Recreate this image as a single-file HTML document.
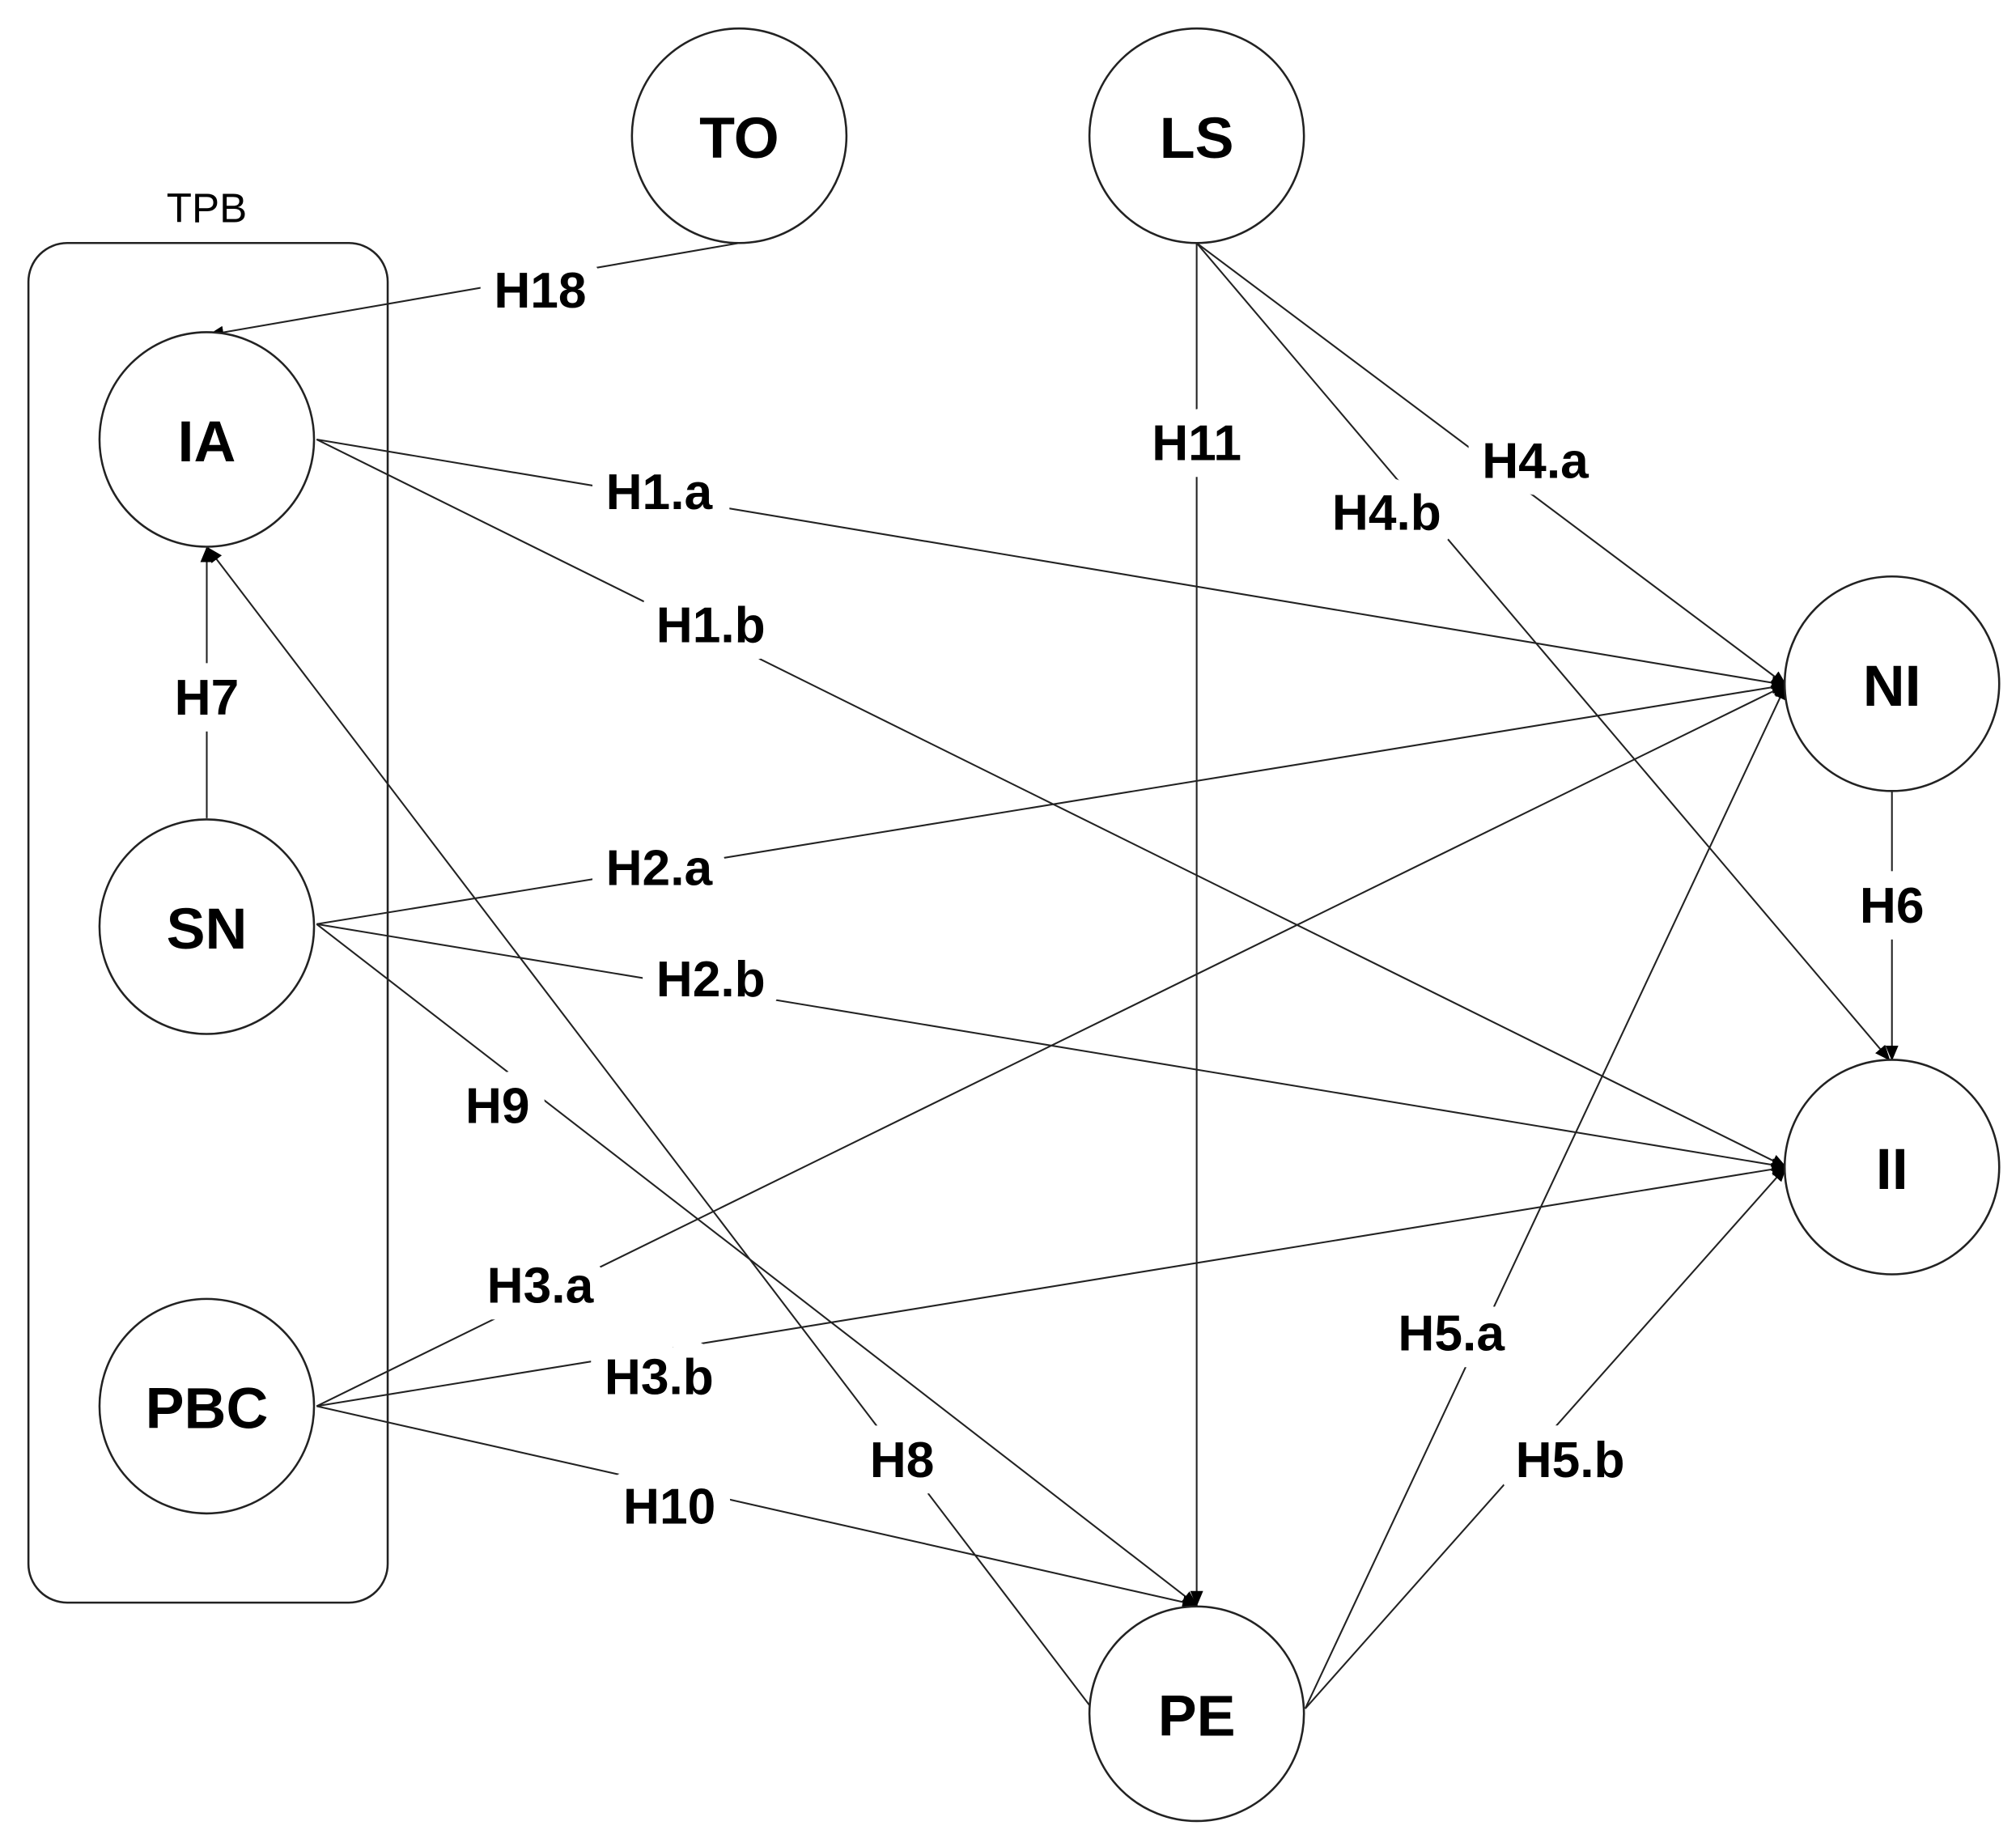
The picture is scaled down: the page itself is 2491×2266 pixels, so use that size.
<!DOCTYPE html>
<html><head><meta charset="utf-8"><style>
html,body{margin:0;padding:0;background:#fff;}
svg{display:block;}
text{font-family:"Liberation Sans",Arial,sans-serif;}
.n{font-weight:bold;font-size:45px;}
.l{font-weight:bold;font-size:39px;paint-order:stroke;stroke:#fff;stroke-width:26px;stroke-linejoin:round;}
</style></head><body>
<svg width="2491" height="2266" viewBox="0 0 1560 1419" xmlns="http://www.w3.org/2000/svg">
<defs>
<marker id="a" markerUnits="userSpaceOnUse" markerWidth="12" markerHeight="12" refX="11" refY="6" orient="auto">
<path d="M0,1 L12,6 L0,11 z" fill="#000"/>
</marker>
</defs>
<rect width="1560" height="1419" fill="#fff"/>
<rect x="22" y="188" width="278" height="1052" rx="30" ry="30" fill="none" stroke="#222" stroke-width="1.6"/>
<text x="160" y="172" font-size="32" text-anchor="middle">TPB</text>
<g stroke="#222" stroke-width="1.3" fill="none">
<line x1="572" y1="188" x2="162" y2="259" marker-end="url(#a)"/>
<line x1="926" y1="188" x2="926" y2="1242" marker-end="url(#a)"/>
<line x1="926" y1="188" x2="1382" y2="530" marker-end="url(#a)"/>
<line x1="926" y1="188" x2="1462" y2="820" marker-end="url(#a)"/>
<line x1="245" y1="340" x2="1382" y2="530" marker-end="url(#a)"/>
<line x1="245" y1="340" x2="1382" y2="903" marker-end="url(#a)"/>
<line x1="245" y1="715" x2="1382" y2="530" marker-end="url(#a)"/>
<line x1="245" y1="715" x2="1382" y2="903" marker-end="url(#a)"/>
<line x1="245" y1="715" x2="926" y2="1242" marker-end="url(#a)"/>
<line x1="245" y1="1088" x2="1382" y2="530" marker-end="url(#a)"/>
<line x1="245" y1="1088" x2="1382" y2="903" marker-end="url(#a)"/>
<line x1="245" y1="1088" x2="926" y2="1242" marker-end="url(#a)"/>
<line x1="845" y1="1322" x2="161" y2="424" marker-end="url(#a)"/>
<line x1="1010" y1="1322" x2="1382" y2="530" marker-end="url(#a)"/>
<line x1="1010" y1="1322" x2="1382" y2="903" marker-end="url(#a)"/>
<line x1="1464" y1="612" x2="1464" y2="820" marker-end="url(#a)"/>
<line x1="160" y1="633" x2="160" y2="424" marker-end="url(#a)"/>
</g>
<g fill="#fff" stroke="#222" stroke-width="1.6">
<circle cx="572" cy="105" r="83"/>
<circle cx="926" cy="105" r="83"/>
<circle cx="160" cy="340" r="83"/>
<circle cx="160" cy="717" r="83"/>
<circle cx="160" cy="1088" r="83"/>
<circle cx="1464" cy="529" r="83"/>
<circle cx="1464" cy="903" r="83"/>
<circle cx="926" cy="1326" r="83"/>
</g>
<g class="n" text-anchor="middle" dominant-baseline="central">
<text x="572" y="107">TO</text>
<text x="926" y="107">LS</text>
<text x="160" y="342">IA</text>
<text x="160" y="719">SN</text>
<text x="160" y="1090">PBC</text>
<text x="1464" y="531">NI</text>
<text x="1464" y="905">II</text>
<text x="926" y="1328">PE</text>
</g>
<g class="l" text-anchor="middle" dominant-baseline="central">
<text x="418" y="225">H18</text>
<text x="926" y="343">H11</text>
<text x="1188" y="357">H4.a</text>
<text x="1073" y="397">H4.b</text>
<text x="510" y="381">H1.a</text>
<text x="550" y="484">H1.b</text>
<text x="160" y="540">H7</text>
<text x="510" y="672">H2.a</text>
<text x="550" y="758">H2.b</text>
<text x="385" y="856">H9</text>
<text x="418" y="995">H3.a</text>
<text x="510" y="1066">H3.b</text>
<text x="518" y="1166">H10</text>
<text x="698" y="1130">H8</text>
<text x="1123" y="1032">H5.a</text>
<text x="1215" y="1130">H5.b</text>
<text x="1464" y="701">H6</text>
</g>
</svg>
</body></html>
